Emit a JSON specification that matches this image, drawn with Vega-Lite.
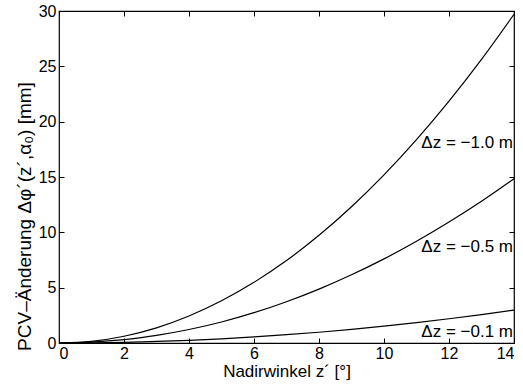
{
  "$schema": "https://vega.github.io/schema/vega-lite/v6.json",
  "autosize": {"type": "none"},
  "padding": {"left": 59, "top": 11, "right": 9, "bottom": 44},
  "width": 455,
  "height": 332,
  "background": "white",
  "config": {
    "font": "Liberation Sans",
    "view": {"stroke": "black", "strokeWidth": 1.2},
    "axis": {
      "domain": false,
      "grid": false,
      "tickColor": "black",
      "tickSize": -5,
      "labelColor": "black",
      "labelFontSize": 16,
      "titleColor": "black",
      "titleFontSize": 17,
      "titleFontWeight": "normal",
      "labelFont": "Liberation Sans",
      "titleFont": "Liberation Sans"
    }
  },
  "datasets": {
    "curves": [
      {"z": 0, "y": 0, "dz": "-1.0"}, {"z": 1, "y": 0.15, "dz": "-1.0"}, {"z": 2, "y": 0.61, "dz": "-1.0"}, {"z": 3, "y": 1.37, "dz": "-1.0"}, {"z": 4, "y": 2.44, "dz": "-1.0"}, {"z": 5, "y": 3.81, "dz": "-1.0"}, {"z": 6, "y": 5.48, "dz": "-1.0"}, {"z": 7, "y": 7.45, "dz": "-1.0"}, {"z": 8, "y": 9.73, "dz": "-1.0"}, {"z": 9, "y": 12.31, "dz": "-1.0"}, {"z": 10, "y": 15.19, "dz": "-1.0"}, {"z": 11, "y": 18.37, "dz": "-1.0"}, {"z": 12, "y": 21.85, "dz": "-1.0"}, {"z": 13, "y": 25.63, "dz": "-1.0"}, {"z": 14, "y": 29.70, "dz": "-1.0"},
      {"z": 0, "y": 0, "dz": "-0.5"}, {"z": 1, "y": 0.08, "dz": "-0.5"}, {"z": 2, "y": 0.30, "dz": "-0.5"}, {"z": 3, "y": 0.69, "dz": "-0.5"}, {"z": 4, "y": 1.22, "dz": "-0.5"}, {"z": 5, "y": 1.90, "dz": "-0.5"}, {"z": 6, "y": 2.74, "dz": "-0.5"}, {"z": 7, "y": 3.73, "dz": "-0.5"}, {"z": 8, "y": 4.87, "dz": "-0.5"}, {"z": 9, "y": 6.16, "dz": "-0.5"}, {"z": 10, "y": 7.60, "dz": "-0.5"}, {"z": 11, "y": 9.19, "dz": "-0.5"}, {"z": 12, "y": 10.93, "dz": "-0.5"}, {"z": 13, "y": 12.81, "dz": "-0.5"}, {"z": 14, "y": 14.85, "dz": "-0.5"},
      {"z": 0, "y": 0, "dz": "-0.1"}, {"z": 1, "y": 0.02, "dz": "-0.1"}, {"z": 2, "y": 0.06, "dz": "-0.1"}, {"z": 3, "y": 0.14, "dz": "-0.1"}, {"z": 4, "y": 0.24, "dz": "-0.1"}, {"z": 5, "y": 0.38, "dz": "-0.1"}, {"z": 6, "y": 0.55, "dz": "-0.1"}, {"z": 7, "y": 0.75, "dz": "-0.1"}, {"z": 8, "y": 0.97, "dz": "-0.1"}, {"z": 9, "y": 1.23, "dz": "-0.1"}, {"z": 10, "y": 1.52, "dz": "-0.1"}, {"z": 11, "y": 1.84, "dz": "-0.1"}, {"z": 12, "y": 2.19, "dz": "-0.1"}, {"z": 13, "y": 2.56, "dz": "-0.1"}, {"z": 14, "y": 2.97, "dz": "-0.1"}
    ],
    "labels": [
      {"z": 14, "y": 18.1, "text": "Δz = −1.0 m"},
      {"z": 14, "y": 8.7, "text": "Δz = −0.5 m"},
      {"z": 14, "y": 1.0, "text": "Δz = −0.1 m"}
    ]
  },
  "resolve": {"axis": {"x": "independent", "y": "independent"}},
  "layer": [
    {
      "data": {"name": "curves"},
      "mark": {"type": "line", "color": "black", "strokeWidth": 1.2, "interpolate": "monotone", "clip": true},
      "encoding": {
        "x": {"field": "z", "type": "quantitative", "scale": {"domain": [0, 14], "nice": false},
          "axis": {"title": "Nadirwinkel z´ [°]", "values": [0, 2, 4, 6, 8, 10, 12, 14], "labelPadding": 7, "titlePadding": 2}},
        "y": {"field": "y", "type": "quantitative", "scale": {"domain": [0, 30], "nice": false},
          "axis": {"title": "PCV–Änderung Δφ´(z´,α₀) [mm]", "titleFontSize": 19, "titleY": 205, "values": [0, 5, 10, 15, 20, 25, 30], "labelPadding": 8, "titlePadding": 4}},
        "detail": {"field": "dz"}
      }
    },
    {
      "data": {"name": "labels"},
      "mark": {"type": "text", "align": "right", "baseline": "middle", "dx": -1, "fontSize": 17, "font": "Liberation Sans", "color": "black"},
      "encoding": {
        "x": {"field": "z", "type": "quantitative", "scale": {"domain": [0, 14], "nice": false},
          "axis": {"orient": "top", "labels": false, "title": null, "values": [0, 2, 4, 6, 8, 10, 12, 14]}},
        "y": {"field": "y", "type": "quantitative", "scale": {"domain": [0, 30], "nice": false},
          "axis": {"orient": "right", "labels": false, "title": null, "values": [0, 5, 10, 15, 20, 25, 30]}},
        "text": {"field": "text"}
      }
    }
  ]
}
